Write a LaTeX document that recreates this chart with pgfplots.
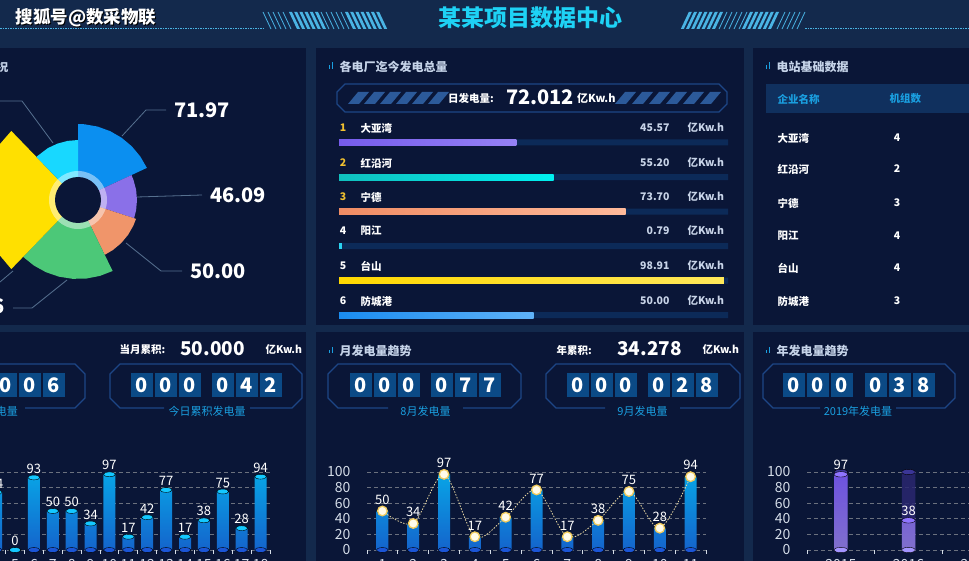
\documentclass[border=0pt]{standalone}
\usepackage{pgfplots}
\pgfplotsset{compat=1.18}
\usepgfplotslibrary{polar}
\usepackage{pgfplotstable}
\usepackage{fontspec}
\setmainfont{Noto Sans CJK SC}
\newcommand\fs[1]{\fontsize{#1}{#1}\selectfont}

\definecolor{gapc}{HTML}{13294C}
\definecolor{pnl}{HTML}{0A1637}
\definecolor{ttl}{HTML}{C5D3E8}
\definecolor{cyanT}{HTML}{1ED2F5}
\definecolor{boxln}{HTML}{1D4686}
\definecolor{digbg}{HTML}{0B4A86}
\definecolor{lblc}{HTML}{1A9FE0}
\definecolor{gridc}{HTML}{6B717E}
\definecolor{track}{HTML}{0C2A58}
\definecolor{tickc}{HTML}{D5DDE8}
\definecolor{barTop}{HTML}{08A4E6}
\definecolor{barBot}{HTML}{1464CC}
\definecolor{capTop}{HTML}{14C8FF}
\definecolor{capBot}{HTML}{1B55D6}
\definecolor{decoc}{HTML}{4AB4E4}
\definecolor{leader}{HTML}{56708F}
\definecolor{roseBlue}{HTML}{0B8FF0}
\definecolor{rosePur}{HTML}{8A70E8}
\definecolor{roseOra}{HTML}{F0956A}
\definecolor{roseGrn}{HTML}{4CC878}
\definecolor{roseYel}{HTML}{FFE000}
\definecolor{roseCyn}{HTML}{18D8FF}
\definecolor{strA}{HTML}{2C5A9A}
\definecolor{hdrrow}{HTML}{10305E}
\definecolor{rankc}{HTML}{F0C030}
\definecolor{valc}{HTML}{C8D4E8}
\definecolor{lineC}{HTML}{E6D6A0}
\definecolor{mkFill}{HTML}{FFFBEA}
\definecolor{mkRing}{HTML}{F2CC5E}
\definecolor{purTrack}{HTML}{2A2770}
\definecolor{purTrackCap}{HTML}{3A3596}
\definecolor{purTop}{HTML}{7658EC}
\definecolor{purBot}{HTML}{8A78D8}
\definecolor{purCapT}{HTML}{8F74FF}
\definecolor{purCapB}{HTML}{A394FF}
\definecolor{p1a}{HTML}{765CEC}\definecolor{p1b}{HTML}{9682F5}
\definecolor{p2a}{HTML}{10C0BE}\definecolor{p2b}{HTML}{00F0F0}
\definecolor{p3a}{HTML}{F08C64}\definecolor{p3b}{HTML}{FFBA9B}
\definecolor{p4a}{HTML}{2AD2F0}
\definecolor{p5a}{HTML}{FFD800}\definecolor{p5b}{HTML}{FFE85A}
\definecolor{p6a}{HTML}{1A8CF0}\definecolor{p6b}{HTML}{5FB2F8}

\pgfplotstableread{
x y z
4 74 0
5 0 0
6 93 0
7 50 0
8 50 0
9 34 0
10 97 0
11 17 0
12 42 0
13 77 0
14 17 0
15 38 0
16 75 0
17 28 0
18 94 0
}\dataDay

\pgfplotstableread{
x y z
1 50 0
2 34 0
3 97 0
4 17 0
5 42 0
6 77 0
7 17 0
8 38 0
9 75 0
10 28 0
11 94 0
}\dataMonth

\pgfplotstableread{
x y z t
1 97 0 100
2 38 0 100
}\dataYear

\pgfplotsset{
  barchart/.style={
    scale only axis, anchor=south west, height=78pt, ymin=0, ymax=100, clip=false,
    axis line style={draw=none}, ytick={0,20,40,60,80,100}, ymajorgrids,
    grid style={color=gridc, dash pattern=on 4pt off 3pt, line width=0.7pt},
    tick align=outside, xtick pos=bottom, ytick pos=left, major tick length=4pt,
    ytick style={draw=none}, xtick style={color=tickc, line width=0.8pt},
    ticklabel style={font=\fs{14}, text=tickc},
    /pgf/number format/assume math mode=true,
    x tick label as interval,
    yticklabel style={xshift=-9pt},
    xticklabel style={yshift=-1.5pt},
  },
  cylbar/.style={ybar, bar width=12pt, bar shift=0pt, draw=none, top color=barTop, bottom color=barBot},
  cap/.style={only marks, mark=*, mark size=6pt, mark options={draw=none, fill=#1, yscale=0.4}},
}

\newcommand\dig[2]{\fill[digbg] (#1,373) rectangle ++(22,24);
  \node[font=\fs{20}\bfseries, text=white, inner sep=0pt] at ({#1+11},385.5) {#2};}
\newcommand\frameBox[5]{%
  \draw[boxln, line width=1.1pt] (#3,408) -- ({#1+10},408) -- (#1,398) -- (#1,374) -- ({#1+10},364) -- ({#2-10},364) -- (#2,374) -- (#2,398) -- ({#2-10},408) -- (#4,408);
  \node[font=\fs{11}, text=lblc] at ({(#3+#4)/2},411.5) {#5};}
\newcommand\icon[2]{\fill[lblc] (#1,{#2+2}) rectangle ++(1.3,-3.5); \fill[lblc] ({#1+3},{#2+2}) rectangle ++(1.3,-6.5);}

\begin{document}
\begin{tikzpicture}[x=1pt, y=-1pt]
\useasboundingbox (0,0) rectangle (969,561);
\clip (0,0) rectangle (969,561);
% backgrounds
\fill[gapc] (0,0) rectangle (969,561);
\fill[pnl] (0,48) rectangle (306,325);
\fill[pnl] (316,48) rectangle (744,325);
\fill[pnl] (753,48) rectangle (975,325);
\fill[pnl] (0,332) rectangle (306,565);
\fill[pnl] (316,332) rectangle (744,565);
\fill[pnl] (753,332) rectangle (975,565);

% header
\draw[decoc, dash pattern=on 1.5pt off 1pt, line width=1pt] (0,29) -- (263,29);
\draw[decoc, dash pattern=on 1.5pt off 1pt, line width=1pt] (805,29) -- (969,29);
\node[anchor=west, font=\fs{17.5}\bfseries, text=black] at (13,19) {搜狐号@数采物联};
\node[anchor=west, font=\fs{17.5}\bfseries, text=white] at (12,18) {搜狐号@数采物联};
\node[font=\fs{23}\bfseries, text=cyanT] at (530,18) {某某项目数据中心};
\foreach \s in {0,1} {
\begin{scope}[xshift={\s*1068pt}, xscale={1-2*\s}]
  \foreach \i in {0,...,4} \draw[decoc, line width=0.8pt] ({263+\i*5},12) -- ({271+\i*5},29);
  \foreach \i in {0,...,5} \fill[decoc] ({289+\i*5.2},12) -- ({292+\i*5.2},12) -- ({300+\i*5.2},29) -- ({297+\i*5.2},29) -- cycle;
  \foreach \i in {0,...,4} \draw[decoc, line width=0.8pt] ({321+\i*5},12) -- ({329+\i*5},29);
  \foreach \i in {0,...,6} \fill[decoc] ({345+\i*5.2},12) -- ({348+\i*5.2},12) -- ({356+\i*5.2},29) -- ({353+\i*5.2},29) -- cycle;
\end{scope}
}

% ---------- top-left: rose chart
\node[anchor=east, font=\fs{11}\bfseries, text=ttl] at (12,67) {运行状况};
\begin{polaraxis}[at={(78pt,-200pt)}, anchor=center, scale only axis, width=200pt, height=200pt,
  ymin=0, ymax=100, hide axis, clip=false]
\addplot[fill=roseBlue, draw=none] coordinates {(25,0) (25,76) (35,76) (45,76) (55,76) (65,76) (75,76) (85,76) (90,76) (90,0)};
\addplot[fill=rosePur, draw=none] coordinates {(-18,0) (-18,59) (-10,59) (0,59) (10,59) (20,59) (25,59) (25,0)};
\addplot[fill=roseOra, draw=none] coordinates {(-64,0) (-64,61) (-55,61) (-45,61) (-35,61) (-25,61) (-18,61) (-18,0)};
\addplot[fill=roseGrn, draw=none] coordinates {(-134,0) (-134,79) (-124,79) (-114,79) (-104,79) (-94,79) (-84,79) (-74,79) (-64,79) (-64,0)};
\addplot[fill=roseYel, draw=none] coordinates {(134,0) (134,96) (144,96) (154,96) (164,96) (174,96) (184,96) (194,96) (204,96) (214,96) (226,96) (226,0)};
\addplot[fill=roseCyn, draw=none] coordinates {(90,0) (90,60) (100,60) (110,60) (120,60) (134,60) (134,0)};
\end{polaraxis}
\fill[white, opacity=0.45] (78,200) circle[radius=29];
\fill[pnl] (78,200) circle[radius=23];
\draw[leader, line width=0.8pt] (122,136) -- (146,110) -- (166,110);
\draw[leader, line width=0.8pt] (137,197) -- (202,195);
\draw[leader, line width=0.8pt] (126,243) -- (161,271) -- (182,271);
\draw[leader, line width=0.8pt] (53,143) -- (22,101) -- (0,101);
\draw[leader, line width=0.8pt] (67,280) -- (32,308) -- (13,308);
\draw[leader, line width=0.8pt] (13,271) -- (0,282);
\node[font=\fs{20}\bfseries, text=white] at (202,110) {71.97};
\node[font=\fs{20}\bfseries, text=white] at (238,195) {46.09};
\node[font=\fs{20}\bfseries, text=white] at (218,271) {50.00};
\node[anchor=east, font=\fs{20}\bfseries, text=white] at (8,306) {86.86};

% ---------- top-middle: progress bars
\icon{329}{67}
\node[anchor=west, font=\fs{12}\bfseries, text=ttl] at (336,67) {各电厂迄今发电总量};
\draw[boxln, line width=1.1pt] (345,84) -- (719,84) -- (727,92) -- (727,104) -- (719,112) -- (345,112) -- (337,104) -- (337,92) -- cycle;
\foreach \i in {0,...,5} {
  \fill[strA] ({348+\i*16},104) -- ({359+\i*16},104) -- ({369+\i*16},92) -- ({358+\i*16},92) -- cycle;
  \fill[strA] ({615+\i*17},104) -- ({626+\i*17},104) -- ({636+\i*17},92) -- ({625+\i*17},92) -- cycle;
}
\node[font=\fs{10.5}\bfseries, text=white] at (471,98.5) {日发电量:};
\node[anchor=west, font=\fs{20}\bfseries, text=white, inner sep=0pt] at (506,97) {72.012};
\node[anchor=west, font=\fs{11}\bfseries, text=white, inner sep=0pt] at (577,98) {亿Kw.h};
\begin{axis}[at={(339pt,-320pt)}, anchor=south west, scale only axis, width=389pt, height=190pt,
  xmin=0, xmax=100, ymin=130, ymax=320, y dir=reverse, hide axis, clip=false,
  every axis plot/.append style={xbar, bar width=6pt, bar shift=0pt, draw=none}]
\addplot[fill=track] coordinates {(100,142.5) (100,177) (100,211.5) (100,246) (100,280.5) (100,315)};
\addplot[left color=p1a, right color=p1b] coordinates {(45.57,142.5)};
\addplot[left color=p2a, right color=p2b] coordinates {(55.20,177)};
\addplot[left color=p3a, right color=p3b] coordinates {(73.70,211.5)};
\addplot[fill=p4a] coordinates {(0.79,246)};
\addplot[left color=p5a, right color=p5b] coordinates {(98.91,280.5)};
\addplot[left color=p6a, right color=p6b] coordinates {(50.00,315)};
\end{axis}
\foreach \r/\n/\v/\yy/\c in {1/大亚湾/45.57/128/rankc, 2/红沿河/55.20/163/rankc, 3/宁德/73.70/197/rankc, 4/阳江/0.79/231/white, 5/台山/98.91/266/white, 6/防城港/50.00/301/white} {
  \node[font=\fs{10.5}\bfseries, text=\c] at (343,\yy) {\r};
  \node[anchor=west, font=\fs{10.5}\bfseries, text=white] at (357,\yy) {\n};
  \node[anchor=east, font=\fs{10.5}\bfseries, text=valc] at (673,\yy) {\v};
  \node[anchor=west, font=\fs{10.5}\bfseries, text=valc] at (684,\yy) {亿Kw.h};
}

% ---------- top-right: table
\icon{766}{67}
\node[anchor=west, font=\fs{12}\bfseries, text=ttl] at (773,67) {电站基础数据};
\fill[hdrrow] (766,84) rectangle (975,113);
\node[anchor=west, font=\fs{10.5}\bfseries, text=lblc] at (774,99) {企业名称};
\node[anchor=west, font=\fs{10.5}\bfseries, text=lblc] at (886,99) {机组数};
\foreach \n/\k/\yy in {大亚湾/4/138, 红沿河/2/169, 宁德/3/203, 阳江/4/236, 台山/4/268, 防城港/3/301} {
  \node[anchor=west, font=\fs{10.5}\bfseries, text=white] at (774,\yy) {\n};
  \node[font=\fs{10.5}\bfseries, text=white] at (897,\yy) {\k};
}

% ---------- bottom-left
\node[anchor=west, font=\fs{10.5}\bfseries, text=white] at (116,350) {当月累积:};
\node[anchor=west, font=\fs{19}\bfseries, text=white, inner sep=0pt] at (180,349) {50.000};
\node[anchor=west, font=\fs{10.5}\bfseries, text=white] at (262,350) {亿Kw.h};
\frameBox{-107}{85}{-66}{25}{当月累积发电量}
\dig{-86}{0}\dig{-62}{0}\dig{-38}{0}\dig{-5}{0}\dig{19}{0}\dig{43}{6}
\frameBox{110}{302}{164}{250}{今日累积发电量}
\dig{131}{0}\dig{155}{0}\dig{179}{0}\dig{212}{0}\dig{236}{4}\dig{260}{2}
\begin{axis}[barchart, at={(-70pt,-550pt)}, width=340pt, xmin=0.5, xmax=18.5,
  xtick={0.5,1.5,...,18.5}, xticklabels={1,2,3,4,5,6,7,8,9,10,11,12,13,14,15,16,17,18}]
\addplot[cylbar, nodes near coords, every node near coord/.append style={font=\fs{13}, text=white, inner sep=2pt, yshift=2pt}] table[x=x, y=y] {\dataDay};
\addplot[cap=capBot] table[x=x, y=z] {\dataDay};
\addplot[cap=capTop] table[x=x, y=y] {\dataDay};
\end{axis}

% ---------- bottom-middle
\icon{329}{351}
\node[anchor=west, font=\fs{12}\bfseries, text=ttl] at (336,351) {月发电量趋势};
\node[anchor=west, font=\fs{10.5}\bfseries, text=white] at (553,350) {年累积:};
\node[anchor=west, font=\fs{19}\bfseries, text=white, inner sep=0pt] at (617,349) {34.278};
\node[anchor=west, font=\fs{10.5}\bfseries, text=white] at (699,350) {亿Kw.h};
\frameBox{328}{521}{388}{463}{8月发电量}
\dig{350}{0}\dig{374}{0}\dig{398}{0}\dig{431}{0}\dig{455}{7}\dig{479}{7}
\frameBox{546}{740}{605}{680}{9月发电量}
\dig{567}{0}\dig{591}{0}\dig{615}{0}\dig{648}{0}\dig{672}{2}\dig{696}{8}
\begin{axis}[barchart, at={(367pt,-550pt)}, width=339pt, xmin=0.5, xmax=11.5,
  xtick={0.5,1.5,...,11.5}, xticklabels={1,2,3,4,5,6,7,8,9,10,11}]
\addplot[cylbar] table[x=x, y=y] {\dataMonth};
\addplot[cap=capBot] table[x=x, y=z] {\dataMonth};
\addplot[cap=capTop] table[x=x, y=y] {\dataMonth};
\addplot[lineC, line width=0.8pt, dash pattern=on 1.5pt off 1.5pt, smooth, mark=*, mark size=4.8pt,
  mark options={solid, fill=mkFill, draw=mkRing, line width=1.3pt},
  nodes near coords, every node near coord/.append style={font=\fs{13}, text=white, inner sep=2pt, yshift=4pt}]
  table[x=x, y=y] {\dataMonth};
\end{axis}

% ---------- bottom-right
\icon{766}{351}
\node[anchor=west, font=\fs{12}\bfseries, text=ttl] at (773,351) {年发电量趋势};
\frameBox{763}{955}{820}{896}{2019年发电量}
\dig{783}{0}\dig{807}{0}\dig{831}{0}\dig{865}{0}\dig{889}{3}\dig{913}{8}
\begin{axis}[barchart, at={(807pt,-550pt)}, width=203pt, xmin=0.5, xmax=3.5,
  xtick={0.5,1.5,2.5,3.5}, xticklabels={2015,2016,2017}]
\addplot[ybar, bar width=13.5pt, bar shift=0pt, draw=none, fill=purTrack, fill opacity=0.85] table[x=x, y=t] {\dataYear};
\addplot[only marks, mark=*, mark size=6.75pt, mark options={draw=none, fill=purTrackCap, yscale=0.4}] table[x=x, y=t] {\dataYear};
\addplot[ybar, bar width=13.5pt, bar shift=0pt, draw=none, top color=purTop, bottom color=purBot, fill opacity=0.9,
  nodes near coords, every node near coord/.append style={font=\fs{13}, text=white, inner sep=2pt, yshift=2pt, fill opacity=1}] table[x=x, y=y] {\dataYear};
\addplot[only marks, mark=*, mark size=6.75pt, mark options={draw=none, fill=purCapB, yscale=0.4}] table[x=x, y=z] {\dataYear};
\addplot[only marks, mark=*, mark size=6.75pt, mark options={draw=none, fill=purCapT, yscale=0.4}] table[x=x, y=y] {\dataYear};
\end{axis}
\end{tikzpicture}
\end{document}
